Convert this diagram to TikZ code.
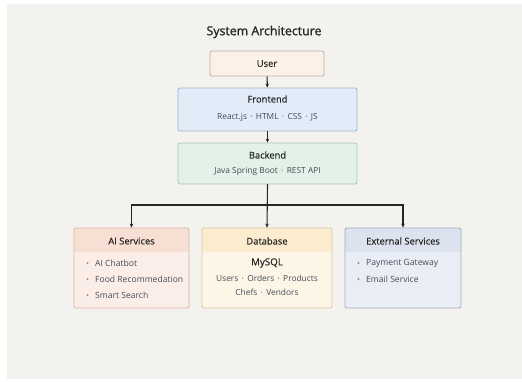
\documentclass[tikz,border=0pt]{standalone}
\usepackage{fontspec}
\setmainfont{Open Sans}
\newfontfamily\headfont[FakeBold=0.35]{Open Sans}
\newfontfamily\titlefont[FakeBold=1.3]{Open Sans}
\usepackage{xcolor}
\usepackage{tikz}
\usetikzlibrary{positioning,arrows.meta,calc}

\definecolor{pagebg}{HTML}{F4F2EF}
\definecolor{ink}{HTML}{262626}
\definecolor{subink}{HTML}{454B58}
\definecolor{userfill}{HTML}{FBF1E6}
\definecolor{userline}{HTML}{B8B0A6}
\definecolor{fefill}{HTML}{E2ECF8}
\definecolor{feline}{HTML}{9FB2CA}
\definecolor{befill}{HTML}{E2F2E9}
\definecolor{beline}{HTML}{A9C6B5}
\definecolor{aifill}{HTML}{FBEEE9}
\definecolor{aihead}{HTML}{F8DFD4}
\definecolor{ailine}{HTML}{D9B3A3}
\definecolor{aidot}{HTML}{C98A72}
\definecolor{dbfill}{HTML}{FDF6E7}
\definecolor{dbhead}{HTML}{FBEBCF}
\definecolor{dbline}{HTML}{D9C7A0}
\definecolor{exfill}{HTML}{E9EDF5}
\definecolor{exhead}{HTML}{DCE2EE}
\definecolor{exline}{HTML}{A0A9BE}
\definecolor{exdot}{HTML}{7F8BA5}

\newcommand{\sep}{\hspace{0.4em}\textperiodcentered\hspace{0.4em}}

\begin{document}
\begin{tikzpicture}[x=1bp,y=-1bp]
\tikzstyle{every node}=[font=\headfont\fontsize{9.4}{11}\selectfont,text=ink];
\tikzstyle{box}=[draw,rounded corners=2bp,line width=0.8bp,inner sep=0pt];
\tikzstyle{sub}=[font=\fontsize{8.4}{9}\selectfont,text=subink];
\tikzstyle{item}=[font=\fontsize{8.6}{10}\selectfont,text=subink,anchor=west,inner sep=0pt];
\tikzstyle{link}=[draw=ink,line width=1.1bp,-{Stealth[length=4bp,width=3.5bp]}];

% page
\useasboundingbox (0,0) rectangle (522,381);
\fill[pagebg] (7,4) rectangle (522,379);

\node[font=\titlefont\fontsize{12.4}{14}\selectfont] (title) at (264,32) {System Architecture};

% top stack
\node[box,draw=userline,fill=userfill,minimum width=114bp,minimum height=25bp] (user) at (267,63.5) {User};
\node[box,draw=feline,fill=fefill,minimum width=179bp,minimum height=43bp] (front) at (267.5,109.5) {};
\node (frontT) at (267.5,99) {Frontend};
\node[sub] (frontS) at (267.5,117) {React.js\sep HTML\sep CSS\sep JS};
\node[box,draw=beline,fill=befill,minimum width=179bp,minimum height=41bp] (back) at (267.5,163.5) {};
\node (backT) at (267.5,155) {Backend};
\node[sub] (backS) at (267.5,171) {Java Spring Boot\sep REST API};

% bottom row
\node[box,draw=ailine,fill=aifill,minimum width=115bp,minimum height=80bp,
  path picture={\fill[aihead] (path picture bounding box.north west) rectangle ([yshift=-24bp]path picture bounding box.north east);}] (ai) at (131.5,268) {};
\node[box,draw=dbline,fill=dbfill,minimum width=130bp,minimum height=80bp,
  path picture={\fill[dbhead] (path picture bounding box.north west) rectangle ([yshift=-24bp]path picture bounding box.north east);}] (db) at (267,268) {};
\node[box,draw=exline,fill=exfill,minimum width=116bp,minimum height=80bp,
  path picture={\fill[exhead] (path picture bounding box.north west) rectangle ([yshift=-24bp]path picture bounding box.north east);}] (ext) at (403,268) {};

\node (aiT) at (131.5,241) {AI Services};
\node (dbT) at (267,241) {Database};
\node (extT) at (403,241) {External Services};

\foreach \t [count=\i] in {AI Chatbot,Food Recommedation,Smart Search} {
	\fill[aidot] (87.5,247+16*\i) circle (1.1bp);
	\node[item] (ai-\i) at (95,247+16*\i) {\t}; %ai item
}
\node[font=\headfont\fontsize{9.8}{11}\selectfont] (dbM) at (267,263) {MySQL};
\node[sub] (dbA) at (267,278) {Users\sep Orders\sep Products};
\node[sub] (dbB) at (267,292.5) {Chefs\sep Vendors};
\foreach \t [count=\i] in {Payment Gateway,Email Service} {
	\fill[exdot] (358.5,247+16*\i) circle (1.1bp);
	\node[item] (ext-\i) at (366,247+16*\i) {\t}; %ext item
}

% connectors
\coordinate (bus) at (267.5,205);
\draw[link] (user) -- (front);
\draw[link] (front) -- (back);
\draw[link] (back.south) -- (db.north);
\draw[link] (back.south) -- (bus) -| (ai.north);
\draw[link] (bus) -| (ext.north);
\end{tikzpicture}
\end{document}
